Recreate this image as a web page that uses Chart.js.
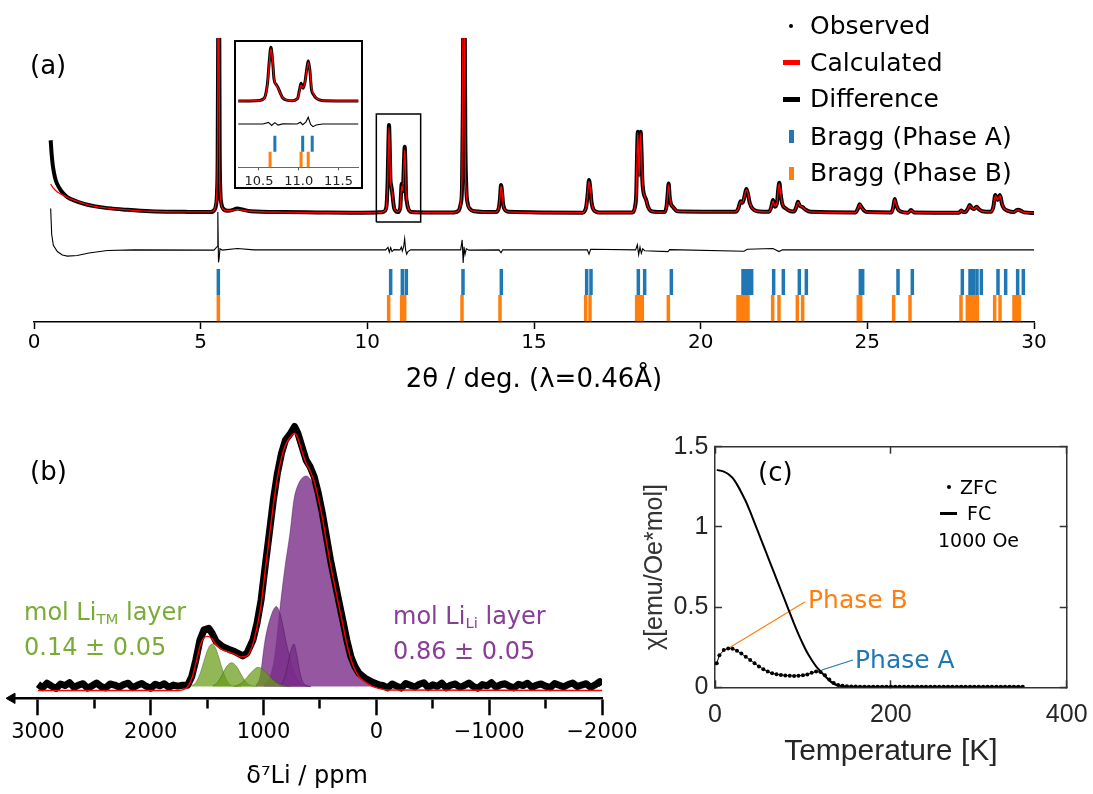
<!DOCTYPE html>
<html>
<head>
<meta charset="utf-8">
<title>Diffraction, NMR and susceptibility</title>
<script src="https://cdn.jsdelivr.net/npm/chart.js@4.4.1/dist/chart.umd.min.js"></script>
<style>
  body { margin: 0; background: #fff; }
  #page { position: relative; width: 1093px; height: 794px; overflow: hidden; background: #fff;
          font-family: 'DejaVu Sans', sans-serif; }
  canvas { position: absolute; }
  .txt { position: absolute; white-space: nowrap; line-height: 1.2; }
  .mk { position: absolute; }
  #insetBox { position: absolute; left: 234px; top: 40px; width: 129px; height: 149px;
              border: 2px solid #000; box-sizing: border-box; background: #fff; }
  #insetBox canvas { left: 0; top: 0; }
  sub { font-size: 0.62em; vertical-align: -0.28em; line-height: 0; }
</style>
</head>
<body>
<div id="page">
  <canvas id="xrd" width="1093" height="400" style="left:0;top:0"></canvas>
  <div id="insetBox"><canvas id="inset" width="125" height="145"></canvas></div>
  <div class="txt" style="left:30px;top:50px;font-size:26px">(a)</div>

  <span class="mk" style="left:789px;top:24px;width:4px;height:4px;border-radius:2px;background:#000"></span>
  <div class="txt" style="left:810px;top:11px;font-size:25px">Observed</div>
  <span class="mk" style="left:783px;top:60px;width:17px;height:5px;background:#ff0000"></span>
  <div class="txt" style="left:810px;top:47.5px;font-size:25px">Calculated</div>
  <span class="mk" style="left:783px;top:97px;width:17px;height:5px;background:#000"></span>
  <div class="txt" style="left:810px;top:84px;font-size:25px">Difference</div>
  <span class="mk" style="left:789px;top:130px;width:5px;height:13px;background:#1f77b4"></span>
  <div class="txt" style="left:810px;top:121.5px;font-size:25px">Bragg (Phase A)</div>
  <span class="mk" style="left:789px;top:167px;width:5px;height:13px;background:#ff7f0e"></span>
  <div class="txt" style="left:810px;top:158px;font-size:25px">Bragg (Phase B)</div>

  <canvas id="nmr" width="640" height="394" style="left:0;top:400px"></canvas>
  <div class="txt" style="left:30px;top:456px;font-size:26px">(b)</div>
  <div class="txt" style="left:24px;top:598px;font-size:24px;color:#7aab35">mol Li<sub>TM</sub> layer</div>
  <div class="txt" style="left:24px;top:633px;font-size:24px;color:#7aab35">0.14 ± 0.05</div>
  <div class="txt" style="left:393px;top:602px;font-size:24px;color:#8a3d97">mol Li<sub>Li</sub> layer</div>
  <div class="txt" style="left:393px;top:637px;font-size:24px;color:#8a3d97">0.86 ± 0.05</div>

  <canvas id="chi" width="463" height="394" style="left:630px;top:400px"></canvas>
  <div class="txt" style="left:758px;top:457px;font-size:26px">(c)</div>
  <span class="mk" style="left:947px;top:485px;width:4px;height:4px;border-radius:2px;background:#000"></span>
  <div class="txt" style="left:960px;top:476px;font-size:19px">ZFC</div>
  <span class="mk" style="left:940px;top:512px;width:17px;height:2.5px;background:#000"></span>
  <div class="txt" style="left:967px;top:502px;font-size:19px">FC</div>
  <div class="txt" style="left:938px;top:529px;font-size:19px">1000 Oe</div>
  <div class="txt" style="left:808px;top:585px;font-size:25px;color:#ff7f0e">Phase B</div>
  <div class="txt" style="left:855px;top:645px;font-size:25px;color:#1f77b4">Phase A</div>
</div>

<script>
// ---------- (a) powder pattern: observed / calculated share the 2theta grid ----------
const twoTheta = [
  0.50, 0.53, 0.56, 0.60, 0.65, 0.70, 0.80, 0.90, 1.00, 1.20, 1.50, 1.80, 2.20, 2.80, 3.50, 4.50,
  5.30, 5.42, 5.46, 5.49, 5.51, 5.525, 5.54, 5.555, 5.57, 5.59, 5.62, 5.67, 5.80,
  5.95, 6.10, 6.25, 6.50, 7.50, 8.50, 9.50, 10.30,
  10.50, 10.55, 10.58, 10.61, 10.63, 10.65, 10.67, 10.69, 10.72, 10.74, 10.77, 10.80, 10.85, 10.92,
  10.97, 10.99, 11.01, 11.03, 11.055, 11.08, 11.10, 11.12, 11.14, 11.16, 11.19, 11.22, 11.26, 11.32, 11.70,
  12.60, 12.74, 12.80, 12.84, 12.865, 12.89, 12.915, 12.94, 12.97, 13.01, 13.08, 13.20,
  13.85, 13.94, 13.98, 14.01, 14.04, 14.07, 14.12, 14.25,
  16.45, 16.56, 16.61, 16.65, 16.69, 16.73, 16.79, 16.95,
  17.95, 18.03, 18.07, 18.09, 18.115, 18.155, 18.20, 18.225, 18.25, 18.28, 18.32, 18.36, 18.42, 18.55,
  18.92, 18.98, 19.01, 19.04, 19.07, 19.11, 19.17, 19.30,
  21.05, 21.13, 21.20, 21.26, 21.32, 21.37, 21.42, 21.47, 21.55, 21.70,
  22.05, 22.12, 22.17, 22.23, 22.29, 22.33, 22.36, 22.40, 22.45, 22.55, 22.70, 22.80, 22.87, 22.92, 22.97, 23.05, 23.15, 23.30,
  24.65, 24.72, 24.77, 24.82, 24.90, 25.00, 25.72, 25.78, 25.82, 25.86, 25.92, 26.00, 26.22, 26.31, 26.40,
  27.75, 27.82, 27.88, 27.95, 28.02, 28.07, 28.13, 28.20, 28.28, 28.34, 28.45, 28.70, 28.78, 28.84, 28.91, 28.98, 29.04, 29.10, 29.20, 29.40, 29.47, 29.53, 29.60, 29.70, 30.00
];
const yObs = [
  64.0, 59.0, 55.5, 52.5, 50.0, 48.5, 46.4, 45.0, 44.0, 42.8, 41.6, 40.8, 40.1, 39.5, 39.0, 38.8,
  38.7, 39.6, 41.2, 45.5, 58.0, 100, 150, 115, 62, 46.5, 41.8, 40.0, 39.2,
  39.4, 40.0, 39.6, 39.0, 38.7, 38.6, 38.5, 38.6,
  38.9, 39.6, 41.5, 50.0, 61.5, 69.4, 62.5, 51.0, 47.8, 46.3, 43.0, 40.3, 39.1, 38.7,
  39.5, 40.5, 45.0, 48.7, 45.9, 49.7, 56.5, 61.7, 56.5, 45.5, 42.0, 40.2, 39.2, 38.7, 38.6,
  38.6, 39.2, 41.5, 47, 75, 140, 120, 65, 47, 41.8, 39.8, 39.0,
  38.7, 40.0, 43.5, 48.2, 46.0, 41.8, 39.6, 38.8,
  38.5, 40.2, 45.0, 50.0, 46.8, 41.8, 39.5, 38.6,
  38.6, 40.6, 46.0, 58.0, 67.0, 52.0, 67.0, 60.0, 50.0, 46.0, 44.2, 43.2, 40.6, 38.9,
  38.7, 41.0, 45.0, 48.8, 44.0, 41.5, 40.5, 39.0,
  38.8, 40.0, 42.5, 42.0, 44.5, 46.8, 45.0, 42.0, 40.0, 39.0,
  38.8, 40.5, 43.0, 40.6, 42.0, 47.0, 49.0, 45.0, 41.5, 40.0, 39.0, 38.9, 40.5, 42.3, 41.0, 40.5, 39.5, 38.8,
  38.6, 40.0, 41.5, 40.5, 39.3, 38.7, 38.6, 40.5, 43.3, 41.5, 39.7, 38.9, 38.5, 39.4, 38.6,
  38.5, 39.3, 38.7, 38.8, 40.0, 41.2, 40.2, 39.8, 40.6, 39.8, 39.0, 38.8, 40.5, 44.7, 43.0, 44.7, 41.5, 40.0, 39.2, 38.7, 39.3, 39.5, 39.2, 38.6, 38.4
];
const yCalc = [
  48.6, 48.0, 47.4, 46.9, 46.3, 45.8, 45.1, 44.5, 43.9, 42.9, 41.7, 40.8, 40.1, 39.5, 39.0, 38.8,
  38.8, 39.8, 42.0, 48.0, 70.0, 130, 140, 95, 52, 44.5, 41.2, 39.8, 39.2,
  39.3, 39.6, 39.4, 39.0, 38.7, 38.6, 38.5, 38.6,
  38.9, 39.5, 41.3, 49.5, 60.5, 68.5, 63.0, 51.5, 47.5, 46.0, 43.0, 40.4, 39.2, 38.8,
  39.4, 40.4, 44.4, 47.8, 46.3, 49.5, 55.5, 60.5, 56.5, 46.5, 42.5, 40.4, 39.3, 38.7, 38.6,
  38.6, 39.3, 42.0, 52, 100, 150, 100, 55, 45, 41.4, 39.7, 39.0,
  38.7, 40.2, 43.8, 47.8, 46.2, 41.8, 39.6, 38.8,
  38.5, 40.2, 45.2, 49.5, 47.0, 41.8, 39.5, 38.6,
  38.6, 40.6, 46.0, 57.5, 66.5, 51.0, 66.5, 59.5, 50.0, 46.0, 44.2, 43.0, 40.6, 38.9,
  38.7, 41.0, 45.2, 48.4, 44.2, 41.5, 40.5, 39.0,
  38.8, 40.0, 42.4, 42.2, 44.6, 46.5, 45.2, 42.0, 40.0, 39.0,
  38.8, 40.6, 42.6, 40.8, 42.0, 47.2, 48.6, 45.2, 41.6, 40.0, 39.0, 38.9, 40.5, 42.1, 41.1, 40.5, 39.5, 38.8,
  38.6, 40.0, 41.4, 40.5, 39.3, 38.7, 38.6, 40.5, 43.2, 41.6, 39.7, 38.9, 38.5, 39.4, 38.6,
  38.5, 39.3, 38.7, 38.8, 40.0, 41.1, 40.3, 39.8, 40.5, 39.8, 39.0, 38.8, 40.5, 44.5, 43.1, 44.5, 41.6, 40.0, 39.2, 38.7, 39.3, 39.5, 39.2, 38.6, 38.4
];
// difference curve, drawn with an offset below the pattern
const diffTheta = [
  0.50, 0.53, 0.58, 0.70, 0.85, 1.00, 1.30, 1.65, 2.20, 3.00,
  5.40, 5.49, 5.515, 5.535, 5.555, 5.58, 5.65, 6.10, 6.60,
  10.55, 10.62, 10.66, 10.70, 10.74, 10.80, 10.98, 11.02, 11.05, 11.09, 11.12, 11.15, 11.18, 11.22, 11.30,
  12.80, 12.845, 12.875, 12.90, 12.93, 12.97, 13.05,
  13.95, 14.01, 14.06, 16.60, 16.65, 16.70,
  18.05, 18.10, 18.14, 18.18, 18.22, 18.26, 18.32, 19.02, 19.07,
  21.30, 21.40, 22.17, 22.35, 22.45, 30.00
];
const yDiff = [
  40.0, 31.0, 27.0, 24.8, 23.6, 23.2, 23.4, 24.3, 25.2, 25.4,
  25.3, 26.5, 38.7, 21.0, 22.5, 25.8, 25.3, 25.9, 25.4,
  25.4, 26.3, 24.6, 26.2, 24.8, 25.5, 25.4, 26.4, 25.0, 26.5, 29.3, 25.2, 23.9, 24.8, 25.4,
  25.4, 28.9, 20.8, 26.5, 23.8, 25.8, 25.3,
  25.4, 24.4, 25.4, 25.4, 23.9, 25.6,
  25.4, 27.2, 23.7, 26.4, 24.2, 25.8, 25.1, 24.8, 25.5,
  24.9, 25.6, 25.9, 24.8, 25.4, 25.4
];
const braggA = [5.53, 10.70, 11.05, 11.17, 12.87, 14.02, 16.58, 16.71, 18.13, 18.32, 19.12,
  21.27, 21.35, 21.45, 21.53, 22.19, 22.48, 22.96, 23.17, 24.79, 24.86, 25.92, 26.35,
  27.85, 28.08, 28.18, 28.29, 28.42, 28.92, 29.15, 29.51, 29.68];
const braggB = [5.53, 10.64, 11.03, 11.12, 12.84, 13.98, 16.55, 16.68, 18.08, 18.17, 18.25, 19.03,
  21.12, 21.2, 21.27, 21.35, 21.42, 22.16, 22.35, 22.9, 23.06, 24.73, 24.8, 25.79, 26.28,
  27.81, 28.0, 28.08, 28.16, 28.24, 28.3, 28.82, 28.98, 29.4, 29.5, 29.56];
const braggARange = [9.5, 18.7];
const braggBRange = [0.3, 9.5];
const zoomBox = [[10.27, 35.2], [10.27, 73.2], [11.6, 73.2], [11.6, 35.2], [10.27, 35.2]];
const xrdTicks = [0, 5, 10, 15, 20, 25, 30];
const insetTicks = [10.5, 11.0, 11.5];

// ---------- (b) 7Li NMR ----------
const obsPpm = [
  3000, 2960, 2920, 2880, 2840, 2800, 2760, 2720, 2680, 2640, 2600, 2560, 2520, 2480, 2440, 2400, 2360,
  2320, 2280, 2240, 2200, 2160, 2120, 2080, 2040, 2000, 1960, 1920, 1880, 1840, 1800, 1760, 1720,
  1673, 1637, 1600, 1564, 1528, 1485, 1456, 1420, 1365, 1311, 1257, 1184, 1148, 1094, 1058, 1022, 986, 949, 913, 877,
  841, 805, 761, 725, 696, 660, 624, 588, 552, 515, 479, 443, 407, 371, 335, 298, 262, 226, 190, 154, 100, 45, -27,
  -60, -100, -140, -180, -220, -260, -300, -340, -380, -420, -460, -500, -540, -580, -620, -660, -700,
  -740, -780, -820, -860, -900, -940, -980, -1020, -1060, -1100, -1140, -1180, -1220, -1260, -1300, -1340,
  -1380, -1420, -1460, -1500, -1540, -1580, -1620, -1660, -1700, -1740, -1780, -1820, -1860, -1900, -1940, -1980, -2000
];
const obsInt = [
  0.9, -0.4, 1.3, 0.2, -0.7, 1.0, 0.4, 1.5, -0.3, 0.6, 1.1, -0.6, 0.3, 1.4, 0.0, -0.5, 1.0,
  0.6, -0.2, 0.8, 1.3, -0.4, 0.5, 1.2, 0.1, -0.6, 0.9, 0.3, 1.1, -0.3, 0.6, 0.2, 0.5,
  0.5, 3.8, 10.3, 17.9, 21.8, 22.4, 20.5, 17.3, 15.4, 14.4, 13.5, 11.8, 12.8, 17.9, 24.4, 33.3, 46.2, 59, 71.8, 82.1,
  89.7, 94.9, 97.4, 100, 97.4, 92.3, 87.2, 84.6, 80.8, 74.4, 66.7, 57.7, 48.7, 41, 33.3, 25.6, 17.9, 11.5, 7.7, 5.1, 3.2, 1.9, 0.6,
  0.4, -0.5, 1.0, 0.2, -0.6, 1.2, 0.5, -0.2, 0.9, 1.5, -0.4, 0.7, 0.1, 1.3, -0.5, 0.6, 1.0,
  -0.3, 0.4, 1.4, 0.0, -0.6, 0.8, 0.3, 1.5, -0.2, 0.7, 1.1, 0.1, -0.5, 0.9, 0.4, 1.3,
  -0.3, 0.6, 1.0, 0.2, -0.4, 1.2, 0.5, -0.1, 0.8, 1.4, 0.0, 0.6, 1.1, -0.3, 0.7, 1.9, 0.6
];
const fitLine = [[3000, -1.5], [1760, -1.5], [1700, -1.0], [1673, 0], [1637, 3.0], [1600, 9.0], [1564, 15.5],
  [1528, 18.8], [1495, 19.3], [1456, 18.3], [1420, 16.0], [1365, 14.2], [1311, 13.3], [1257, 12.5], [1200, 11.4],
  [1148, 11.8], [1094, 16.5], [1058, 23.0], [1022, 31.5], [986, 44.5], [949, 57.5], [913, 70.0], [877, 80.5],
  [841, 88.0], [805, 93.0], [761, 96.0], [725, 97.4], [696, 95.5], [660, 90.5], [624, 86.0], [588, 83.0],
  [552, 79.0], [515, 72.5], [479, 65.0], [443, 56.0], [407, 47.0], [371, 39.3], [335, 31.6], [298, 24.0],
  [262, 16.5], [226, 10.5], [190, 6.5], [154, 3.8], [100, 1.8], [45, 0.3], [-27, -0.8], [-100, -1.3], [-2000, -1.5]];
// fitted components: Li in the transition-metal layer (green) and in the Li layer (purple)
const liTmPeak1 = [[1640, 0.3], [1600, 1.6], [1560, 5.4], [1520, 11], [1490, 14.7], [1457, 16.4], [1425, 14.8],
  [1395, 11], [1355, 5.4], [1315, 1.6], [1275, 0.3], [1200, 0]];
const liTmPeak2 = [[1450, 0.3], [1410, 1.5], [1370, 4.3], [1330, 7.6], [1283, 9.2], [1240, 7.8], [1200, 4.8],
  [1160, 2], [1120, 0.6], [1060, 0]];
const liTmPeak3 = [[1260, 0.2], [1200, 1.2], [1150, 3.4], [1100, 5.9], [1047, 7.4], [990, 5.9], [940, 3.7],
  [890, 1.7], [830, 0.5], [760, 0]];
const liLiPeak1 = [[1000, 0.5], [940, 4], [900, 12], [855, 30], [810, 46], [766, 59], [731, 71.8], [690, 78],
  [650, 80.5], [624, 81], [590, 80], [550, 76], [510, 69.5], [470, 62], [441, 56.5], [400, 47], [360, 38.5],
  [323, 31], [280, 22], [240, 14.5], [200, 9], [175, 6.5], [140, 3.8], [100, 2], [50, 0.8], [0, 0.2], [-60, 0]];
const liLiPeak2 = [[1070, 0.3], [1030, 4], [990, 17], [943, 26], [886, 30.8], [850, 27.5], [827, 23], [800, 17],
  [768, 11.5], [730, 5.5], [690, 2], [640, 0.5], [580, 0]];
const liLiPeak3 = [[860, 0.3], [820, 2.5], [790, 7.5], [760, 13.5], [731, 16.4], [705, 12], [680, 6], [655, 2],
  [620, 0.4], [580, 0]];
const nmrTicks = [3000, 2500, 2000, 1500, 1000, 500, 0, -500, -1000, -1500, -2000];
const nmrMin = -4.5, nmrMax = 3230;

// ---------- (c) susceptibility ----------
const zfcT = [2, 5, 10, 15, 20, 25, 30, 35, 40, 45, 50, 55, 60, 65, 70, 75, 80, 85, 90, 95, 100, 105, 110, 115,
  120, 125, 130, 135, 140, 145, 150, 155, 160, 165, 170, 175, 180, 185, 190, 195, 200, 205, 210, 215, 220, 225,
  230, 235, 240, 245, 250, 255, 260, 265, 270, 275, 280, 285, 290, 295, 300, 305, 310, 315, 320, 325, 330, 335,
  340, 345, 350];
const zfcChi = [0.15, 0.2, 0.232, 0.242, 0.24, 0.228, 0.21, 0.19, 0.17, 0.15, 0.13, 0.113, 0.098, 0.088, 0.081,
  0.077, 0.074, 0.072, 0.071, 0.072, 0.075, 0.08, 0.09, 0.098, 0.095, 0.075, 0.048, 0.027, 0.015, 0.009, 0.006,
  0.005, 0.005, 0.004, 0.004, 0.004, 0.004, 0.004, 0.004, 0.004, 0.004, 0.004, 0.004, 0.004, 0.004, 0.004,
  0.004, 0.004, 0.004, 0.004, 0.004, 0.004, 0.004, 0.004, 0.004, 0.004, 0.004, 0.004, 0.004, 0.004, 0.004,
  0.004, 0.004, 0.004, 0.004, 0.004, 0.004, 0.004, 0.004, 0.004, 0.004];
const fcT = [2, 5, 10, 15, 20, 25, 30, 35, 40, 45, 50, 55, 60, 65, 70, 75, 80, 85, 90, 95, 100, 105, 110, 115,
  120, 125, 130, 135, 140, 145, 150, 175, 200, 250, 300, 350];
const fcChi = [1.355, 1.352, 1.345, 1.33, 1.305, 1.265, 1.215, 1.16, 1.095, 1.025, 0.955, 0.885, 0.815, 0.745,
  0.675, 0.605, 0.535, 0.465, 0.395, 0.33, 0.27, 0.215, 0.17, 0.13, 0.1, 0.07, 0.042, 0.022, 0.011, 0.007,
  0.005, 0.004, 0.004, 0.004, 0.004, 0.004];
const phaseBPointer = [[15.9, 0.245], [102.5, 0.534]];
const phaseAPointer = [[121.5, 0.108], [156.8, 0.17]];

Chart.defaults.font.family = "'DejaVu Sans', sans-serif";
Chart.defaults.color = '#000';
Chart.defaults.animation = false;
Chart.defaults.plugins.legend.display = false;
Chart.defaults.plugins.tooltip.enabled = false;
Chart.defaults.elements.point.radius = 0;
Chart.defaults.elements.line.borderCapStyle = 'butt';

const xy = (xs, ys) => xs.map((x, i) => ({x: x, y: ys[i]}));
const pairs = list => list.map(p => ({x: p[0], y: p[1]}));

// each reflection is a short vertical segment, separated by gaps
function tickSegments(positions, range) {
  const pts = [];
  positions.forEach(p => pts.push({x: p, y: range[0]}, {x: p, y: range[1]}, {x: p, y: null}));
  return pts;
}

function xrdDatasets(obsWidth, tickWidth) {
  return [
    {data: xy(twoTheta, yCalc), borderColor: '#ff0000', borderWidth: 1.3, cubicInterpolationMode: 'monotone', order: 1},
    {data: xy(twoTheta, yObs), borderColor: '#000', borderWidth: obsWidth, cubicInterpolationMode: 'monotone', order: 2},
    {data: xy(diffTheta, yDiff), borderColor: '#000', borderWidth: 1.1, order: 3},
    {data: tickSegments(braggA, braggARange), borderColor: '#1f77b4', borderWidth: tickWidth, order: 4},
    {data: tickSegments(braggB, braggBRange), borderColor: '#ff7f0e', borderWidth: tickWidth, order: 5}
  ];
}

const fixedTicks = values => axis => { axis.ticks = values.map(v => ({value: v})); };
// fixed axis box; label overhang must not shrink the plot area
const fixedSize = (prop, size) => axis => {
  axis[prop] = size;
  axis.paddingLeft = axis.paddingRight = 0;
};

new Chart(document.getElementById('xrd'), {
  type: 'line',
  data: {datasets: xrdDatasets(4, 3.5).concat([
    {data: pairs(zoomBox), borderColor: '#000', borderWidth: 1.5, order: 0}
  ])},
  options: {
    responsive: false,
    layout: {padding: {left: 34, right: 59, top: 38, bottom: 0}},
    scales: {
      x: {
        type: 'linear', min: 0, max: 30,
        afterBuildTicks: fixedTicks(xrdTicks),
        afterFit: fixedSize('height', 78),
        ticks: {font: {size: 20}, padding: 2, maxRotation: 0, autoSkip: false},
        grid: {drawOnChartArea: false, tickLength: 7, tickWidth: 1.5, tickColor: '#000'},
        border: {color: '#000', width: 1.5},
        title: {display: true, text: '2θ / deg. (λ=0.46Å)', font: {size: 26}, padding: {top: 0, bottom: 4}}
      },
      y: {display: false, min: 0, max: 100}
    }
  }
});

new Chart(document.getElementById('inset'), {
  type: 'line',
  data: {datasets: xrdDatasets(3, 3)},
  options: {
    responsive: false,
    layout: {padding: {left: 2.3, right: 2.7, top: 0, bottom: 0}},
    scales: {
      x: {
        type: 'linear', min: 10.24, max: 11.75,
        afterBuildTicks: fixedTicks(insetTicks),
        afterFit: fixedSize('height', 19.7),
        ticks: {font: {size: 13}, padding: 3.6, color: '#222', autoSkip: false, maxRotation: 0,
                callback: v => v.toFixed(1)},
        grid: {drawOnChartArea: false, tickLength: 3, tickColor: '#555'},
        border: {color: '#666', width: 1}
      },
      y: {display: false, min: 0.6, max: 72.4}
    }
  }
});

const purple = 'rgba(121,45,136,0.8)', purpleEdge = 'rgba(60,15,70,0.6)';
const green = 'rgba(102,155,22,0.72)', greenEdge = 'rgba(55,85,15,0.6)';
const component = (list, fillColor, edge, order) => ({
  data: pairs(list), fill: 'origin', backgroundColor: fillColor, borderColor: edge, borderWidth: 0.7,
  cubicInterpolationMode: 'monotone', order: order
});

new Chart(document.getElementById('nmr'), {
  type: 'line',
  data: {datasets: [
    {data: pairs(fitLine), borderColor: '#ff0000', borderWidth: 1.4, cubicInterpolationMode: 'monotone', order: 1},
    {data: xy(obsPpm, obsInt), borderColor: '#000', borderWidth: 7, borderJoinStyle: 'round', order: 2},
    component(liTmPeak3, green, greenEdge, 3),
    component(liTmPeak2, green, greenEdge, 4),
    component(liTmPeak1, green, greenEdge, 5),
    component(liLiPeak3, purple, purpleEdge, 6),
    component(liLiPeak2, purple, purpleEdge, 7),
    component(liLiPeak1, purple, purpleEdge, 8),
    {data: [{x: nmrMax, y: nmrMin}], showLine: false, pointStyle: 'triangle', pointRadius: 6, pointRotation: -90,
     pointBackgroundColor: '#000', pointBorderColor: '#000', clip: false, order: 0}
  ]},
  options: {
    responsive: false,
    layout: {padding: {left: 12, right: 38, top: 19, bottom: 0}},
    scales: {
      x: {
        type: 'linear', reverse: true, min: -2000, max: nmrMax,
        afterBuildTicks: fixedTicks(nmrTicks),
        afterFit: fixedSize('height', 95.7),
        ticks: {font: {size: 21}, padding: 5.1, autoSkip: false, maxRotation: 0,
                callback: v => v % 1000 === 0 ? String(v).replace('-', '\u2212') : ''},
        grid: {drawOnChartArea: false, tickLength: 17, tickWidth: 2.5, tickColor: '#000',
               tickBorderDash: ctx => (ctx.tick && ctx.tick.value % 1000 !== 0) ? [9, 40] : []},
        border: {color: '#000', width: 2.5},
        title: {display: true, text: 'δ⁷Li / ppm', font: {size: 24}, padding: {top: 0, bottom: 2.6}}
      },
      y: {display: false, min: nmrMin, max: 102.9}
    }
  }
});

// inward ticks on every side of the frame
const frameAxis = extra => Object.assign({
  type: 'linear',
  grid: {drawOnChartArea: false, tickLength: -7, tickWidth: 1.5, tickColor: '#333'},
  border: {color: '#333', width: 1.5}
}, extra);
const axisFont = {family: "'Liberation Sans', sans-serif", size: 25};

new Chart(document.getElementById('chi'), {
  type: 'line',
  data: {datasets: [
    {data: xy(fcT, fcChi), borderColor: '#000', borderWidth: 2, cubicInterpolationMode: 'monotone'},
    {data: xy(zfcT, zfcChi), borderColor: '#000', borderWidth: 1, pointRadius: 2, pointBorderWidth: 0,
     pointBackgroundColor: '#000'},
    {data: pairs(phaseBPointer), borderColor: '#ff7f0e', borderWidth: 1.2},
    {data: pairs(phaseAPointer), borderColor: '#1f77b4', borderWidth: 1.2}
  ]},
  options: {
    responsive: false,
    layout: {padding: {left: 0, right: 26.3, top: 46.7, bottom: 0}},
    scales: {
      x: frameAxis({
        min: 0, max: 400,
        afterFit: fixedSize('height', 106.7),
        ticks: {stepSize: 200, font: axisFont, padding: 19.7, color: '#262626', maxRotation: 0},
        title: {display: true, text: 'Temperature [K]', color: '#262626',
                font: {family: "'Liberation Sans', sans-serif", size: 30}, padding: {top: 0, bottom: 24.3}}
      }),
      x2: frameAxis({
        position: 'top', min: 0, max: 400,
        afterFit: fixedSize('height', 0),
        ticks: {stepSize: 200, display: false}
      }),
      y: frameAxis({
        min: 0, max: 1.5,
        afterFit: fixedSize('width', 85),
        ticks: {stepSize: 0.5, font: axisFont, padding: 13.7, color: '#262626', callback: v => String(v)},
        title: {display: true, text: 'χ[emu/Oe*mol]', color: '#333',
                font: {family: "'Liberation Sans', sans-serif", size: 25}, padding: {top: 10, bottom: 0}}
      }),
      y2: frameAxis({
        position: 'right', min: 0, max: 1.5,
        afterFit: fixedSize('width', 0),
        ticks: {stepSize: 0.5, display: false}
      })
    }
  }
});
</script>
</body>
</html>
